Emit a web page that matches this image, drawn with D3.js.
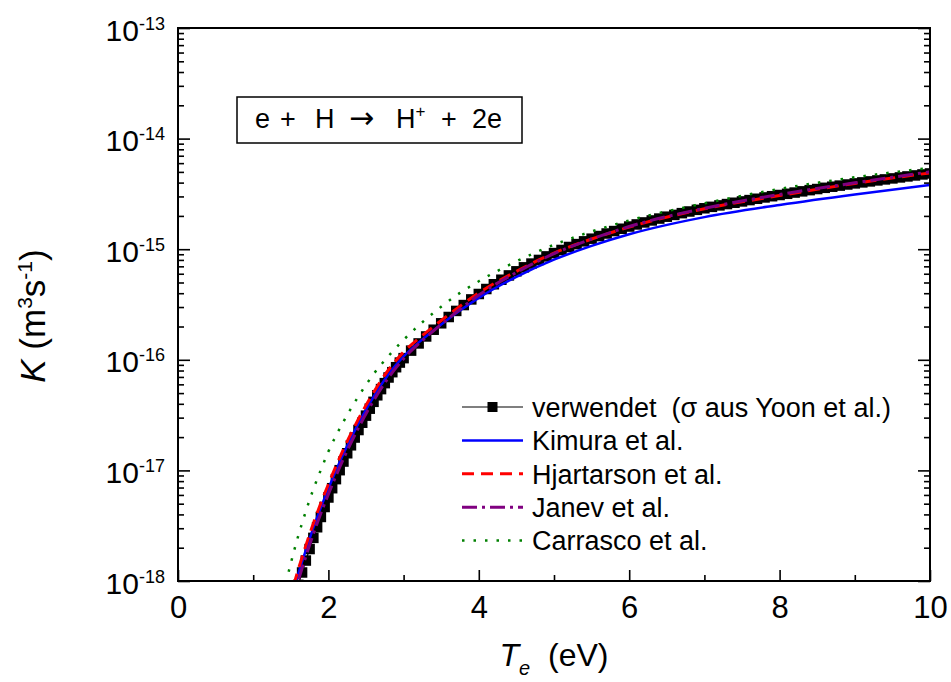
<!DOCTYPE html>
<html>
<head>
<meta charset="utf-8">
<script src="https://cdn.jsdelivr.net/npm/d3@7"></script>
<style>
  body { margin: 0; background: #fff; }
  text { font-family: "Liberation Sans", Arial, sans-serif; fill: #000; white-space: pre; }
</style>
</head>
<body>
<div id="chart"></div>
<script>
// ===== Data (log10 of K in m^3 s^-1) =====

let teVerwendet = [1.60,1.65,1.70,1.75,1.80,1.85,1.90,1.95,2.00,2.05,2.10,2.15,2.20,2.25,2.30,2.35,2.40,2.45,2.50,2.55,
  2.60,2.65,2.70,2.75,2.80,2.85,2.90,2.95,3.00,3.1,3.2,3.3,3.4,3.5,3.6,3.7,3.8,3.9,4.0,4.1,4.2,4.3,4.4,4.5,4.6,4.7,4.8,4.9,
  5.0,5.1,5.2,5.3,5.4,5.5,5.6,5.7,5.8,5.9,6.0,6.1,6.2,6.3,6.4,6.5,6.6,6.7,6.8,6.9,7.0,7.1,7.2,7.3,7.4,7.5,7.6,7.7,7.8,7.9,
  8.0,8.1,8.2,8.3,8.4,8.5,8.6,8.7,8.8,8.9,9.0,9.1,9.2,9.3,9.4,9.5,9.6,9.7,9.8,9.9,10.0];
let logKVerwendet = [-18.035,-17.923,-17.815,-17.711,-17.610,-17.514,-17.421,-17.331,-17.245,-17.161,-17.079,-16.998,
  -16.920,-16.845,-16.773,-16.703,-16.635,-16.569,-16.505,-16.442,-16.380,-16.321,-16.265,-16.211,-16.160,-16.112,-16.067,
  -16.025,-15.985,-15.917,-15.852,-15.789,-15.728,-15.670,-15.613,-15.558,-15.505,-15.454,-15.405,-15.360,-15.317,-15.276,
  -15.237,-15.200,-15.164,-15.130,-15.097,-15.065,-15.035,-15.007,-14.980,-14.954,-14.929,-14.905,-14.881,-14.858,-14.836,
  -14.815,-14.795,-14.776,-14.758,-14.740,-14.723,-14.706,-14.690,-14.674,-14.659,-14.644,-14.630,-14.617,-14.604,-14.592,
  -14.580,-14.568,-14.556,-14.544,-14.532,-14.521,-14.510,-14.499,-14.488,-14.477,-14.466,-14.456,-14.445,-14.435,-14.425,
  -14.415,-14.405,-14.396,-14.387,-14.378,-14.369,-14.360,-14.351,-14.342,-14.333,-14.324,-14.315];

let teLines = [1.4,1.5,1.6,1.7,1.8,1.9,2.0,2.2,2.4,2.6,2.8,3.0,3.25,3.5,3.75,4.0,4.5,5.0,5.5,6.0,7.0,8.0,9.0,10.0];
let logKKimura = [-18.41,-18.17,-17.935,-17.72,-17.52,-17.335,-17.165,-16.85,-16.575,-16.335,-16.13,-15.97,-15.815,
  -15.68,-15.555,-15.44,-15.25,-15.095,-14.97,-14.865,-14.71,-14.60,-14.505,-14.42];
let logKHjartarson = [-18.37,-18.13,-17.895,-17.68,-17.48,-17.295,-17.125,-16.81,-16.535,-16.295,-16.09,-15.93,-15.78,
  -15.645,-15.515,-15.395,-15.20,-15.035,-14.908,-14.80,-14.635,-14.515,-14.405,-14.31];
let logKJanev = [-18.47,-18.23,-17.995,-17.778,-17.575,-17.387,-17.215,-16.895,-16.615,-16.37,-16.16,-15.99,-15.825,
  -15.68,-15.543,-15.415,-15.21,-15.04,-14.908,-14.795,-14.63,-14.505,-14.40,-14.30];
let logKCarrasco = [-18.12,-17.84,-17.59,-17.37,-17.17,-16.995,-16.83,-16.56,-16.33,-16.13,-15.965,-15.82,-15.66,
  -15.52,-15.395,-15.29,-15.11,-14.96,-14.84,-14.74,-14.585,-14.455,-14.35,-14.265];

let xTickValues = [0, 2, 4, 6, 8, 10],
    xMinorValues = [1, 3, 5, 7, 9],
    yDecades = [-18, -17, -16, -15, -14, -13];

let legendLabels = ["verwendet  (\u03c3 aus Yoon et al.)", "Kimura et al.", "Hjartarson et al.", "Janev et al.", "Carrasco et al."];

// ===== Layout =====

let margin = {top: 28, right: 21, bottom: 101, left: 178},
    width = 951 - margin.left - margin.right,
    height = 682 - margin.top - margin.bottom;

let x = d3.scaleLinear().domain([0, 10]).range([0, width]),
    y = d3.scaleLog().domain([1e-18, 1e-13]).range([height, 0]);

let toPoints = (te, logK) => te.map((t, i) => ({te: t, k: Math.pow(10, logK[i])}));

let svg = d3.select("#chart").append("svg")
    .attr("width", 951)
    .attr("height", 682);

let g = svg.append("g")
    .attr("transform", "translate(" + margin.left + "," + margin.top + ")");

g.append("clipPath").attr("id", "plotClip")
  .append("rect").attr("width", width).attr("height", height);

// ===== Axes =====

let yMinorValues = [];
yDecades.slice(0, -1).forEach(e => d3.range(2, 10).forEach(m => yMinorValues.push(m * Math.pow(10, e))));

function styleAxis(sel) {
  sel.select(".domain").remove();
  sel.selectAll(".tick line").attr("stroke", "#000").attr("stroke-width", 1.6);
}

g.append("g")
    .attr("transform", "translate(0," + height + ")")
    .call(d3.axisBottom(x).tickValues(xTickValues).tickSizeInner(-11).tickSizeOuter(0)
      .tickPadding(15).tickFormat(d3.format("d")))
    .call(styleAxis)
    .selectAll("text")
      .attr("font-size", 31)
      .attr("font-family", "Liberation Sans, Arial, sans-serif")
      .attr("fill", "#000");

g.append("g")
    .attr("transform", "translate(0," + height + ")")
    .call(d3.axisBottom(x).tickValues(xMinorValues).tickSizeInner(-6).tickSizeOuter(0).tickFormat(""))
    .call(styleAxis);

let yLeft = g.append("g")
    .call(d3.axisLeft(y).tickValues(yDecades.map(e => Math.pow(10, e))).tickSizeInner(-12).tickSizeOuter(0).tickFormat(""))
    .call(styleAxis);

let ylab = yLeft.selectAll(".tick").append("text")
    .attr("x", -13)
    .attr("y", 12)
    .attr("text-anchor", "end")
    .attr("font-size", 30);
ylab.append("tspan").text("10");
ylab.append("tspan")
    .attr("dy", -11)
    .attr("font-size", 18)
    .text(d => String(Math.round(Math.log10(d))));

g.append("g")
    .call(d3.axisLeft(y).tickValues(yMinorValues).tickSizeInner(-6).tickSizeOuter(0).tickFormat(""))
    .call(styleAxis);

g.append("g")
    .attr("transform", "translate(" + width + ",0)")
    .call(d3.axisRight(y).tickValues(yDecades.map(e => Math.pow(10, e))).tickSizeInner(-12).tickSizeOuter(0).tickFormat(""))
    .call(styleAxis);

g.append("g")
    .attr("transform", "translate(" + width + ",0)")
    .call(d3.axisRight(y).tickValues(yMinorValues).tickSizeInner(-6).tickSizeOuter(0).tickFormat(""))
    .call(styleAxis);

// ===== Curves =====

let plot = g.append("g").attr("clip-path", "url(#plotClip)");

let lineLinear = d3.line().x(d => x(d.te)).y(d => y(d.k));
let lineSmooth = d3.line().curve(d3.curveMonotoneX).x(d => x(d.te)).y(d => y(d.k));

let verwendet = toPoints(teVerwendet, logKVerwendet);
let markerSize = 10.5;

plot.append("path")
    .datum(verwendet)
    .attr("fill", "none")
    .attr("stroke", "#000")
    .attr("stroke-width", 1.2)
    .attr("d", lineLinear);

plot.selectAll(".marker")
    .data(verwendet)
  .enter().append("rect")
    .attr("class", "marker")
    .attr("x", d => x(d.te) - markerSize / 2)
    .attr("y", d => y(d.k) - markerSize / 2)
    .attr("width", markerSize)
    .attr("height", markerSize)
    .attr("fill", "#000");

let series = [
  {values: logKKimura, color: "#0000ff", dash: null, w: 2.5},
  {values: logKHjartarson, color: "#ff0000", dash: "12 7", w: 3},
  {values: logKJanev, color: "#800080", dash: "15 5 3 5", w: 3},
  {values: logKCarrasco, color: "#008000", dash: "2.5 9", w: 2.5}
];

series.forEach(s => {
  plot.append("path")
      .datum(toPoints(teLines, s.values))
      .attr("fill", "none")
      .attr("stroke", s.color)
      .attr("stroke-width", s.w)
      .attr("stroke-dasharray", s.dash)
      .attr("d", lineSmooth);
});

// frame
g.append("rect")
    .attr("width", width)
    .attr("height", height)
    .attr("fill", "none")
    .attr("stroke", "#000")
    .attr("stroke-width", 2);

// ===== Axis titles =====

let xt = svg.append("text")
    .attr("x", margin.left + width / 2)
    .attr("y", 666)
    .attr("text-anchor", "middle")
    .attr("font-size", 32);
xt.append("tspan").attr("font-style", "italic").text("T");
xt.append("tspan").attr("font-style", "italic").attr("font-size", 20).attr("dy", 9).text("e");
xt.append("tspan").attr("dy", -9).text("  (eV)");

let yt = svg.append("text")
    .attr("transform", "translate(45," + (margin.top + 288) + ") rotate(-90)")
    .attr("text-anchor", "middle")
    .attr("font-size", 35);
yt.append("tspan").attr("font-style", "italic").text("K");
yt.append("tspan").text(" (m");
yt.append("tspan").attr("font-size", 21).attr("dy", -13).text("3");
yt.append("tspan").attr("dy", 13).text("s");
yt.append("tspan").attr("font-size", 21).attr("dy", -13).text("-1");
yt.append("tspan").attr("dy", 13).text(")");

// ===== Reaction box =====

svg.append("rect")
    .attr("x", 237).attr("y", 97)
    .attr("width", 285).attr("height", 46)
    .attr("fill", "#fff")
    .attr("stroke", "#000")
    .attr("stroke-width", 1.5);

let rt = svg.append("text")
    .attr("y", 128)
    .attr("font-size", 27);
rt.append("tspan").attr("x", 255).text("e");
rt.append("tspan").attr("x", 280).text("+");
rt.append("tspan").attr("x", 315).text("H");
rt.append("tspan").attr("x", 349).attr("font-family", "DejaVu Sans").attr("font-size", 30).text("\u2192");
rt.append("tspan").attr("x", 396).text("H");
rt.append("tspan").attr("font-size", 17).attr("dy", -11).text("+");
rt.append("tspan").attr("x", 441).attr("dy", 11).text("+");
rt.append("tspan").attr("x", 472).text("2e");

// ===== Legend =====

let legend = svg.append("g").attr("transform", "translate(462,407)");
let legendStyles = [
  {color: "#000", dash: null, w: 1.2, marker: true},
  {color: "#0000ff", dash: null, w: 2.5},
  {color: "#ff0000", dash: "12 7", w: 3},
  {color: "#800080", dash: "15 5 3 5", w: 3},
  {color: "#008000", dash: "2.5 9", w: 2.5}
];

let rows = legend.selectAll(".row")
    .data(legendLabels)
  .enter().append("g")
    .attr("class", "row")
    .attr("transform", (d, i) => "translate(0," + (i * 33.4) + ")");

rows.append("line")
    .attr("x1", 0).attr("x2", 61)
    .attr("stroke", (d, i) => legendStyles[i].color)
    .attr("stroke-width", (d, i) => legendStyles[i].w)
    .attr("stroke-dasharray", (d, i) => legendStyles[i].dash);

rows.filter((d, i) => legendStyles[i].marker)
  .append("rect")
    .attr("x", 25.5).attr("y", -5)
    .attr("width", 10).attr("height", 10)
    .attr("fill", "#000");

rows.append("text")
    .attr("x", 70)
    .attr("dy", "0.36em")
    .attr("font-size", 27)
    .text(d => d);
</script>
</body>
</html>
